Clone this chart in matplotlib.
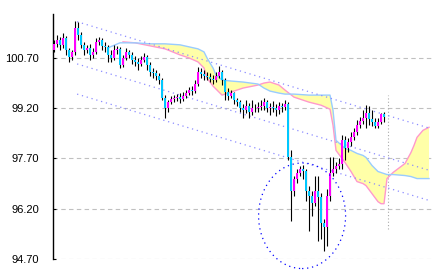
import numpy as np
import matplotlib
matplotlib.use('Agg')
import matplotlib.pyplot as plt
from matplotlib.patches import Ellipse

# --- candles (one per bar index) ---
first_open = 100.94
closes = [101.12, 101.24, 101.09, 101.30, 100.94, 100.73, 100.88, 101.60, 101.39, 101.09,
          100.94, 101.00, 100.79, 100.88, 101.18, 101.24, 101.06, 101.03, 100.79, 100.70,
          100.94, 100.97, 100.49, 100.70, 100.88, 100.79, 100.64, 100.58, 100.52, 100.64,
          100.73, 100.49, 100.28, 100.25, 100.16, 100.04, 99.50, 99.20, 99.38, 99.47,
          99.50, 99.53, 99.47, 99.56, 99.65, 99.74, 99.71, 99.92, 100.28, 100.22,
          100.16, 100.13, 100.07, 100.04, 100.16, 100.28, 100.04, 99.68, 99.56, 99.65,
          99.44, 99.38, 99.20, 99.14, 99.26, 99.08, 99.20, 99.20, 99.23, 99.26,
          99.38, 99.20, 99.23, 99.20, 99.14, 99.26, 99.23, 99.32, 97.73, 96.74,
          97.10, 97.28, 97.40, 97.34, 96.74, 96.59, 96.38, 96.74, 96.56, 95.78,
          95.66, 96.59, 97.28, 97.40, 97.46, 97.52, 98.24, 98.00, 98.18, 98.33,
          98.48, 98.69, 98.81, 98.90, 99.05, 98.87, 98.78, 98.66, 98.78, 99.02,
          98.93]
highs = [101.24, 101.39, 101.33, 101.45, 101.36, 101.00, 100.94, 101.81, 101.78, 101.48,
         101.18, 101.09, 101.12, 101.00, 101.30, 101.33, 101.30, 101.18, 101.09, 100.94,
         101.09, 101.06, 101.03, 100.79, 101.00, 100.94, 100.88, 100.76, 100.70, 100.76,
         100.85, 100.79, 100.58, 100.40, 100.34, 100.25, 100.10, 99.59, 99.44, 99.56,
         99.59, 99.62, 99.65, 99.68, 99.74, 99.83, 99.86, 100.04, 100.43, 100.40,
         100.34, 100.28, 100.25, 100.19, 100.28, 100.46, 100.34, 100.10, 99.80, 99.74,
         99.68, 99.50, 99.44, 99.32, 99.44, 99.35, 99.44, 99.32, 99.38, 99.44,
         99.50, 99.44, 99.35, 99.41, 99.32, 99.38, 99.35, 99.44, 99.38, 97.94,
         97.19, 97.40, 97.46, 97.49, 97.40, 96.89, 96.74, 97.19, 97.19, 96.68,
         95.90, 96.80, 97.73, 97.73, 97.58, 97.70, 98.39, 98.36, 98.30, 98.48,
         98.60, 98.84, 98.93, 99.14, 99.29, 99.26, 99.14, 98.90, 98.90, 99.05,
         99.08]
lows = [100.88, 101.03, 100.94, 101.00, 100.79, 100.58, 100.64, 100.79, 101.24, 101.00,
        100.79, 100.85, 100.64, 100.70, 100.82, 101.09, 100.94, 100.88, 100.58, 100.58,
        100.64, 100.82, 100.40, 100.43, 100.64, 100.70, 100.52, 100.46, 100.34, 100.46,
        100.58, 100.34, 100.16, 100.10, 100.04, 99.92, 99.44, 98.90, 99.08, 99.32,
        99.38, 99.41, 99.35, 99.41, 99.50, 99.59, 99.59, 99.65, 99.86, 100.10,
        100.04, 100.04, 99.98, 99.92, 99.98, 100.10, 99.89, 99.44, 99.44, 99.50,
        99.32, 99.26, 99.08, 98.90, 99.05, 98.90, 98.99, 99.08, 99.08, 99.14,
        99.14, 99.08, 98.99, 99.08, 98.96, 99.02, 99.08, 99.14, 97.64, 95.84,
        96.59, 96.98, 97.19, 97.10, 96.44, 95.54, 95.99, 96.29, 95.24, 95.30,
        94.94, 95.09, 96.44, 97.19, 97.28, 97.40, 97.40, 97.64, 97.88, 98.06,
        98.24, 98.39, 98.60, 98.72, 98.60, 98.69, 98.66, 98.60, 98.60, 98.72,
        98.78]

# --- cloud (span lines), sampled at bar indices ---
cloud_idx = [18, 22, 23, 27, 32, 37, 42, 45, 48, 50, 51, 53, 54, 56, 59, 63, 68, 70, 72, 75,
             77, 80, 85, 89, 92, 93, 94, 97, 99, 101, 103, 104, 106, 108, 109, 110, 111, 113,
             117, 119, 120, 121, 123, 125]
span_a = [101.00, 101.15, 101.15, 101.15, 101.12, 101.12, 101.09, 101.03, 100.97, 100.88,
          100.70, 100.40, 100.19, 100.04, 100.01, 99.98, 99.92, 99.80, 99.71, 99.65,
          99.62, 99.62, 99.59, 99.59, 99.59, 99.14, 98.24, 98.00, 97.94, 97.85,
          97.79, 97.73, 97.49, 97.31, 97.28, 97.25, 97.22, 97.22, 97.19, 97.16,
          97.13, 97.10, 97.10, 97.10]
span_b = [np.nan, np.nan, 101.18, 101.15, 101.06, 100.97, 100.79, 100.70, 100.58, 100.40,
          100.10, 99.86, 99.77, 99.59, 99.68, 99.80, 99.89, 99.95, 99.98, 99.89,
          99.74, 99.53, 99.38, 99.29, 99.17, 98.69, 97.94, 97.58, 97.31, 97.01,
          96.95, 96.89, 96.65, 96.41, 96.35, 96.35, 97.10, 97.28, 97.55, 97.88,
          98.09, 98.33, 98.54, 98.63]

# --- trend channel (start idx/price, end idx/price) ---
chan_x = [7.7, 125.3]
chan_upper = [101.78, 98.60]
chan_mid = [100.52, 97.34]
chan_lower = [99.62, 96.44]

# circled area and current-bar marker
circle_center = (82.7, 95.99)
circle_w, circle_h = 29, 3.15
marker_idx = 111.3
marker_range = (95.60, 99.59)

yticks = [94.70, 96.20, 97.70, 99.20, 100.70]

plt.rcParams['font.family'] = ['Liberation Sans', 'DejaVu Sans']

fig = plt.figure(figsize=(4.33, 2.73), dpi=100)
ax = fig.add_axes([53 / 433, 14 / 273, 380 / 433, 245 / 273])

closes = np.array(closes)
opens = np.concatenate([[first_open], closes[:-1]])
x = np.arange(len(closes))

# cloud
ca = np.array(span_a)
cb = np.array(span_b)
ok = ~np.isnan(cb)
ax.fill_between(np.array(cloud_idx)[ok], ca[ok], cb[ok], facecolor='#ffffa8',
                linewidth=0, zorder=1)
ax.plot(cloud_idx, span_b, color='#ff99cc', lw=1, zorder=2)
ax.plot(cloud_idx, span_a, color='#99ccff', lw=1, zorder=2)

# grid
for t in yticks:
    ax.axhline(t, color='#c0c0c0', lw=0.8, ls=(0, (4, 3)), zorder=0)

# channel
for c in (chan_upper, chan_mid, chan_lower):
    ax.plot(chan_x, c, color='#8c8cff', lw=0.9, ls=(0, (1, 3)), zorder=2)

# candles
ax.vlines(x, lows, highs, color='black', lw=0.8, zorder=3)
up = closes > opens
ax.bar(x[up], (closes - opens)[up], bottom=opens[up], width=0.85,
       color='#ff00ff', linewidth=0, zorder=4)
ax.bar(x[~up], (closes - opens)[~up], bottom=opens[~up], width=0.85,
       color='#00c8ff', linewidth=0, zorder=4)

# circle and marker line
ax.add_patch(Ellipse(circle_center, circle_w, circle_h, fill=False, edgecolor='#0000ff',
                     lw=0.9, ls=(0, (1, 3)), clip_on=False, zorder=5))
ax.vlines(marker_idx, *marker_range, color='#aaaaaa', lw=0.8, ls=(0, (1, 2)), zorder=1)

ax.set_xlim(-0.33, 126.33)
ax.set_ylim(94.70, 102.01)
ax.set_yticks(yticks)
ax.set_yticklabels(['%.2f' % t for t in yticks], fontsize=8)
ax.set_xticks([])
ax.tick_params(axis='y', direction='in', length=2.5, width=0.8, pad=10)
for s in ('top', 'right', 'bottom'):
    ax.spines[s].set_visible(False)
ax.spines['left'].set_linewidth(1)

fig.savefig('out.png', dpi=100)
